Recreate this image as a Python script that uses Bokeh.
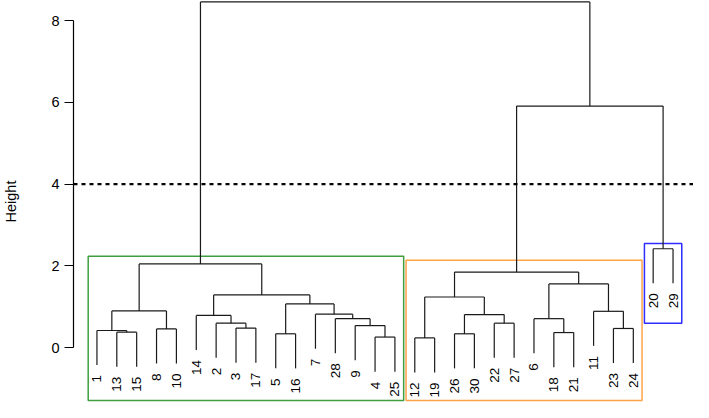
import numpy as np
from bokeh.plotting import figure
from bokeh.models import ColumnDataSource, Range1d, FixedTicker, Span
from bokeh.core.properties import value
from bokeh.embed import file_html
from bokeh.resources import INLINE

# ---- data ----
leaf_order = [1, 13, 15, 8, 10, 14, 2, 3, 17, 5, 16, 7, 28, 9, 4, 25,
              12, 19, 26, 30, 22, 27, 6, 18, 21, 11, 23, 24, 20, 29]
# R-style merge matrix: negative = leaf label, positive = earlier merge (1-based)
merge_a = [-13, -1, -8, 2, -3, -2, -14, -5, -4, -9, -28, -7, 8, 7, 4,
           -12, -26, -22, 17, 16, -18, -6, -23, -11, 22, 20, -20, 26, 15]
merge_b = [-15, 1, -10, 3, -17, 5, 6, -16, -25, 9, 10, 11, 12, 13, 14,
           -19, -30, -27, 18, 19, -21, 21, -24, 23, 24, 25, -29, 27, 28]
merge_h = [0.38, 0.42, 0.46, 0.90, 0.48, 0.60, 0.79, 0.34, 0.26, 0.54, 0.71, 0.82, 1.07, 1.29, 2.05,
           0.24, 0.34, 0.60, 0.81, 1.24, 0.37, 0.71, 0.47, 0.89, 1.56, 1.85, 2.42, 5.91, 8.46]
cut_height = 4
y_ticks = [0, 2, 4, 6, 8]

box_left = [0.56, 16.56, 28.56]
box_right = [16.44, 28.44, 30.44]
box_top = [2.24, 2.14, 2.55]
box_bottom = [-1.29, -1.29, 0.60]
box_colors = ["#3f9f3f", "#ffa347", "#2d2dff"]

# ---- dendrogram geometry ----
hang = 0.1 * max(merge_h)
leaf_pos = {lab: i + 1 for i, lab in enumerate(leaf_order)}
node_x = {}
x0, y0, x1, y1 = [], [], [], []
leaf_bottom = {}


def child_info(c, h):
    if c < 0:
        x = leaf_pos[-c]
        leaf_bottom[-c] = h - hang
        return x, h - hang
    return node_x[c], merge_h[c - 1]


for k in range(len(merge_h)):
    h = merge_h[k]
    xa, ya = child_info(merge_a[k], h)
    xb, yb = child_info(merge_b[k], h)
    node_x[k + 1] = (xa + xb) / 2
    x0 += [xa, xb, xa]
    y0 += [ya, yb, h]
    x1 += [xa, xb, xb]
    y1 += [h, h, h]

seg = ColumnDataSource(dict(x0=x0, y0=y0, x1=x1, y1=y1))
lab = ColumnDataSource(dict(x=[leaf_pos[l] for l in leaf_order],
                            y=[leaf_bottom[l] for l in leaf_order],
                            t=[str(l) for l in leaf_order]))
boxes = ColumnDataSource(dict(left=box_left, right=box_right, top=box_top,
                              bottom=box_bottom, color=box_colors))

p = figure(width=693, height=402, x_range=Range1d(-0.18, 31.03),
           y_range=Range1d(-1.341, 8.494), output_backend="svg",
           toolbar_location=None, x_axis_type=None,
           min_border_left=70, min_border_right=0, min_border_top=0,
           min_border_bottom=0)
p.outline_line_color = None
p.grid.visible = False

p.quad(left="left", right="right", top="top", bottom="bottom", source=boxes,
       fill_color=None, line_color="color", line_width=1.5)
p.segment(x0="x0", y0="y0", x1="x1", y1="y1", source=seg,
          line_color="#1a1a1a", line_width=1.2)
p.add_layout(Span(location=cut_height, dimension="width", line_color="black",
                  line_width=2.2, line_dash="4 4"))
p.text(x="x", y="y", text="t", source=lab, angle=np.pi / 2,
       text_align="right", text_baseline="middle", y_offset=10,
       text_font=value("Liberation Sans"), text_font_size="13.5px",
       text_color="black")

ax = p.yaxis[0]
ax.ticker = FixedTicker(ticks=y_ticks)
ax.bounds = (0, 8)
ax.axis_label = "Height"
ax.axis_label_text_font = "Liberation Sans"
ax.axis_label_text_font_style = "normal"
ax.axis_label_text_font_size = "14.5px"
ax.axis_label_text_color = "black"
ax.axis_label_standoff = 29
ax.major_label_text_font = "Liberation Sans"
ax.major_label_text_font_size = "14.5px"
ax.major_label_text_color = "black"
ax.major_label_standoff = 5
ax.major_tick_out = 9
ax.major_tick_in = 0
ax.minor_tick_line_color = None
ax.axis_line_color = "black"
ax.major_tick_line_color = "black"
ax.axis_line_width = 1.2
ax.major_tick_line_width = 1.2

open("out.html", "w").write(file_html(p, INLINE))
